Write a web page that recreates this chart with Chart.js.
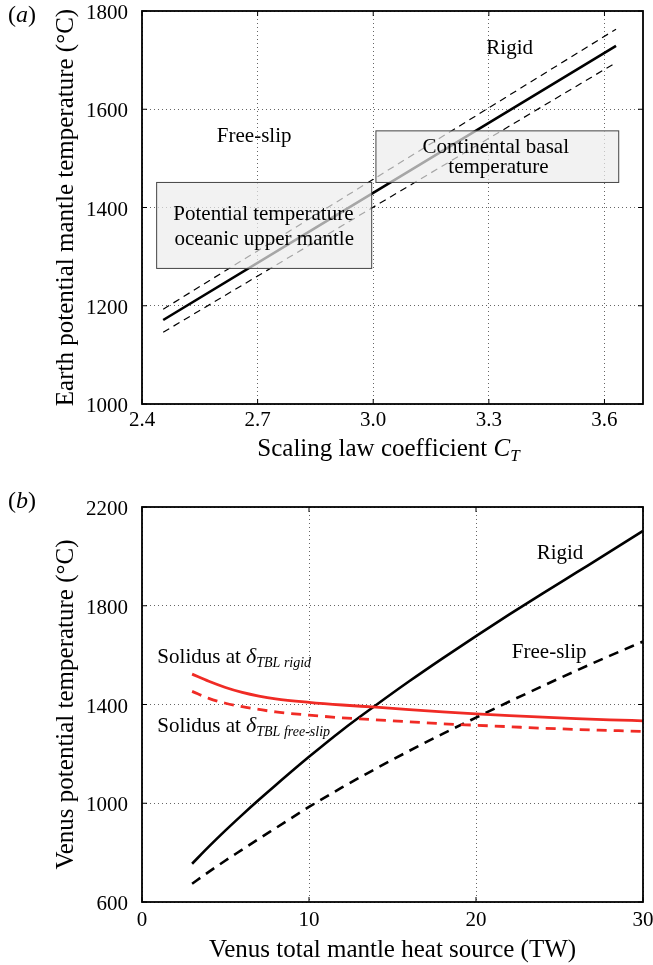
<!DOCTYPE html>
<html>
<head>
<meta charset="utf-8">
<script src="https://cdn.jsdelivr.net/npm/chart.js@4.4.0/dist/chart.umd.min.js"></script>
<style>
  html, body { margin: 0; padding: 0; background: #fff; }
  #wrap { position: relative; width: 653px; height: 965px; }
  canvas { position: absolute; left: 0; }
  #chartA { top: 0; }
  #chartB { top: 470px; }
</style>
</head>
<body>
<div id="wrap">
  <canvas id="chartA" width="653" height="470"></canvas>
  <canvas id="chartB" width="653" height="495"></canvas>
</div>
<script>
// (a) Earth
const ctCoef = [2.455, 3.63];
const earthRigid = [1171, 1729];
const earthUpper = [1193, 1763];
const earthLower = [1146, 1695];
const xTicksA = [2.4, 2.7, 3.0, 3.3, 3.6];
const yTicksA = [1000, 1200, 1400, 1600, 1800];
// boxes: x from, x to, T from, T to
const boxContinental = [3.007, 3.637, 1451, 1556];
const boxOceanic = [2.438, 2.996, 1276, 1451];

// (b) Venus
const heatTW = [3, 4, 5, 6, 7, 8, 10, 12, 14, 16, 18, 20, 22, 24, 26, 28, 30];
const venusRigid = [755, 824, 890, 953, 1014, 1073, 1188, 1297, 1397, 1494, 1587, 1677, 1765, 1850, 1934, 2018, 2103];
const venusFreeSlip = [674, 722, 768, 812, 856, 899, 985, 1065, 1140, 1212, 1281, 1347, 1412, 1475, 1537, 1597, 1655];
const solidusRigid = [1523, 1494, 1469, 1449, 1434, 1423, 1409, 1398, 1389, 1379, 1370, 1362, 1355, 1349, 1343, 1338, 1334];
const solidusFreeSlip = [1453, 1425, 1405, 1391, 1380, 1370, 1357, 1346, 1338, 1330, 1322, 1316, 1310, 1304, 1299, 1295, 1291];
const xTicksB = [0, 10, 20, 30];
const yTicksB = [600, 1000, 1400, 1800, 2200];

const serif = '"Liberation Serif", "Times New Roman", serif';
const RED = '#f02b25';
Chart.defaults.font.family = serif;
Chart.defaults.color = '#000';

function fnt(size, italic) {
  return (italic ? 'italic ' : '') + size + 'px ' + serif;
}

// draws a run of text pieces with their own font / vertical shift
function richText(ctx, parts, x, y, align) {
  let w = 0;
  parts.forEach(p => {
    ctx.font = p.font;
    p.w = ctx.measureText(p.text).width;
    w += p.w;
  });
  let cx = align === 'center' ? x - w / 2 : x;
  parts.forEach(p => {
    ctx.font = p.font;
    ctx.fillText(p.text, cx, y + (p.dy || 0));
    cx += p.w;
  });
}

function pts(xs, ys) {
  return xs.map((x, i) => ({ x: x, y: ys[i] }));
}

function axis(min, max, tickVals, size, pad, title, fmt, horiz) {
  return {
    type: 'linear',
    min: min,
    max: max,
    afterBuildTicks: s => { s.ticks = tickVals.map(v => ({ value: v })); },
    afterFit: s => {
      if (horiz) s.height = size; else s.width = size;
      s.paddingLeft = 0; s.paddingRight = 0; s.paddingTop = 0; s.paddingBottom = 0;
    },
    grid: { color: 'rgba(0,0,0,0.6)', lineWidth: 1, drawTicks: false },
    border: { display: false, dash: [1, 3] },
    ticks: {
      autoSkip: false, maxRotation: 0, padding: pad,
      font: { size: 21 },
      labelOffset: horiz ? 0 : 2.5,
      callback: fmt
    },
    title: title
  };
}

// plot box with inward ticks, like the matlab axes
const framePlugin = {
  id: 'frame',
  afterDraw(chart) {
    const { ctx, chartArea: a, scales } = chart;
    ctx.save();
    ctx.strokeStyle = '#000';
    ctx.lineWidth = 1;
    ctx.beginPath();
    scales.x.ticks.forEach(t => {
      const px = scales.x.getPixelForValue(t.value);
      ctx.moveTo(px, a.bottom); ctx.lineTo(px, a.bottom - 5);
      ctx.moveTo(px, a.top); ctx.lineTo(px, a.top + 5);
    });
    scales.y.ticks.forEach(t => {
      const py = scales.y.getPixelForValue(t.value);
      ctx.moveTo(a.left, py); ctx.lineTo(a.left + 5, py);
      ctx.moveTo(a.right, py); ctx.lineTo(a.right - 5, py);
    });
    ctx.stroke();
    ctx.lineWidth = 1.8;
    ctx.strokeRect(a.left, a.top, a.right - a.left, a.bottom - a.top);
    ctx.restore();
  }
};

const lineDefaults = { pointRadius: 0, fill: false, cubicInterpolationMode: 'monotone' };

// ---------- (a) ----------
const notesA = {
  id: 'notesA',
  afterDatasetsDraw(chart) {
    const { ctx, scales: { x, y } } = chart;
    ctx.save();
    [boxOceanic, boxContinental].forEach(b => {
      const x0 = x.getPixelForValue(b[0]), x1 = x.getPixelForValue(b[1]);
      const y0 = y.getPixelForValue(b[3]), y1 = y.getPixelForValue(b[2]);
      ctx.fillStyle = 'rgba(236,236,236,0.7)';
      ctx.fillRect(x0, y0, x1 - x0, y1 - y0);
      ctx.strokeStyle = '#444';
      ctx.lineWidth = 1;
      ctx.strokeRect(x0, y0, x1 - x0, y1 - y0);
    });
    ctx.fillStyle = '#000';
    ctx.textBaseline = 'alphabetic';
    ctx.textAlign = 'left';
    const labels = [
      ['Rigid', 3.354, 1712],
      ['Free-slip', 2.691, 1534],
      ['Continental basal', 3.318, 1510],
      ['temperature', 3.325, 1470],
      ['Potential temperature', 2.715, 1375],
      ['oceanic upper mantle', 2.717, 1324]
    ];
    labels.forEach(l => {
      richText(ctx, [{ text: l[0], font: fnt(21) }], x.getPixelForValue(l[1]), y.getPixelForValue(l[2]), 'center');
    });
    ctx.restore();
  },
  afterDraw(chart) {
    const { ctx, chartArea: a } = chart;
    ctx.save();
    ctx.fillStyle = '#000';
    ctx.textBaseline = 'alphabetic';
    richText(ctx, [
      { text: 'Scaling law coefficient ', font: fnt(25) },
      { text: 'C', font: fnt(25, true) },
      { text: 'T', font: fnt(17, true), dy: 5 }
    ], (a.left + a.right) / 2 - 4, 456, 'center');
    richText(ctx, [
      { text: '(', font: fnt(24) },
      { text: 'a', font: fnt(24, true) },
      { text: ')', font: fnt(24) }
    ], 8, 22, 'left');
    ctx.restore();
  }
};

new Chart(document.getElementById('chartA'), {
  type: 'line',
  data: {
    datasets: [
      Object.assign({ data: pts(ctCoef, earthRigid), borderColor: '#000', borderWidth: 2.6 }, lineDefaults),
      Object.assign({ data: pts(ctCoef, earthUpper), borderColor: '#000', borderWidth: 1.2, borderDash: [7, 5] }, lineDefaults),
      Object.assign({ data: pts(ctCoef, earthLower), borderColor: '#000', borderWidth: 1.2, borderDash: [7, 5] }, lineDefaults)
    ]
  },
  options: {
    responsive: false,
    animation: false,
    devicePixelRatio: 1,
    events: [],
    layout: { padding: { top: 11, right: 10, left: 0, bottom: 0 } },
    plugins: { legend: { display: false }, tooltip: { enabled: false } },
    scales: {
      x: axis(2.4, 3.7, xTicksA, 66, 4, { display: false }, v => v.toFixed(1), true),
      y: axis(1000, 1800, yTicksA, 142, 14, {
        display: true, text: 'Earth potential mantle temperature (°C)',
        font: { size: 25 }, padding: { top: 51, bottom: 0 }
      }, v => String(v), false)
    }
  },
  plugins: [notesA, framePlugin]
});

// ---------- (b) ----------
const notesB = {
  id: 'notesB',
  afterDatasetsDraw(chart) {
    const { ctx, scales: { x, y } } = chart;
    ctx.save();
    ctx.fillStyle = '#000';
    ctx.textBaseline = 'alphabetic';
    richText(ctx, [{ text: 'Rigid', font: fnt(21) }], x.getPixelForValue(25.03), y.getPixelForValue(1988), 'center');
    richText(ctx, [{ text: 'Free-slip', font: fnt(21) }], x.getPixelForValue(24.38), y.getPixelForValue(1587), 'center');
    richText(ctx, [
      { text: 'Solidus at ', font: fnt(21) },
      { text: 'δ', font: fnt(22, true) },
      { text: 'TBL rigid', font: fnt(14, true), dy: 4 }
    ], x.getPixelForValue(0.92), y.getPixelForValue(1569), 'left');
    richText(ctx, [
      { text: 'Solidus at ', font: fnt(21) },
      { text: 'δ', font: fnt(22, true) },
      { text: 'TBL free-slip', font: fnt(14, true), dy: 4 }
    ], x.getPixelForValue(0.92), y.getPixelForValue(1290), 'left');
    ctx.restore();
  },
  afterDraw(chart) {
    const { ctx } = chart;
    ctx.save();
    ctx.fillStyle = '#000';
    ctx.textBaseline = 'alphabetic';
    richText(ctx, [
      { text: '(', font: fnt(24) },
      { text: 'b', font: fnt(24, true) },
      { text: ')', font: fnt(24) }
    ], 8, 38, 'left');
    ctx.restore();
  }
};

new Chart(document.getElementById('chartB'), {
  type: 'line',
  data: {
    datasets: [
      Object.assign({ data: pts(heatTW, solidusRigid), borderColor: RED, borderWidth: 2.8 }, lineDefaults),
      Object.assign({ data: pts(heatTW, solidusFreeSlip), borderColor: RED, borderWidth: 2.8, borderDash: [10, 7] }, lineDefaults),
      Object.assign({ data: pts(heatTW, venusRigid), borderColor: '#000', borderWidth: 2.6 }, lineDefaults),
      Object.assign({ data: pts(heatTW, venusFreeSlip), borderColor: '#000', borderWidth: 2.6, borderDash: [10, 7] }, lineDefaults)
    ]
  },
  options: {
    responsive: false,
    animation: false,
    devicePixelRatio: 1,
    events: [],
    layout: { padding: { top: 37, right: 10, left: 0, bottom: 0 } },
    plugins: { legend: { display: false }, tooltip: { enabled: false } },
    scales: {
      x: axis(0, 30, xTicksB, 63, 6, {
        display: true, text: 'Venus total mantle heat source (TW)',
        font: { size: 25 }, padding: { top: 0, bottom: 0 }
      }, v => String(v), true),
      y: axis(600, 2200, yTicksB, 142, 14, {
        display: true, text: 'Venus potential temperature (°C)',
        font: { size: 25 }, padding: { top: 51, bottom: 0 }
      }, v => String(v), false)
    }
  },
  plugins: [notesB, framePlugin]
});
</script>
</body>
</html>
